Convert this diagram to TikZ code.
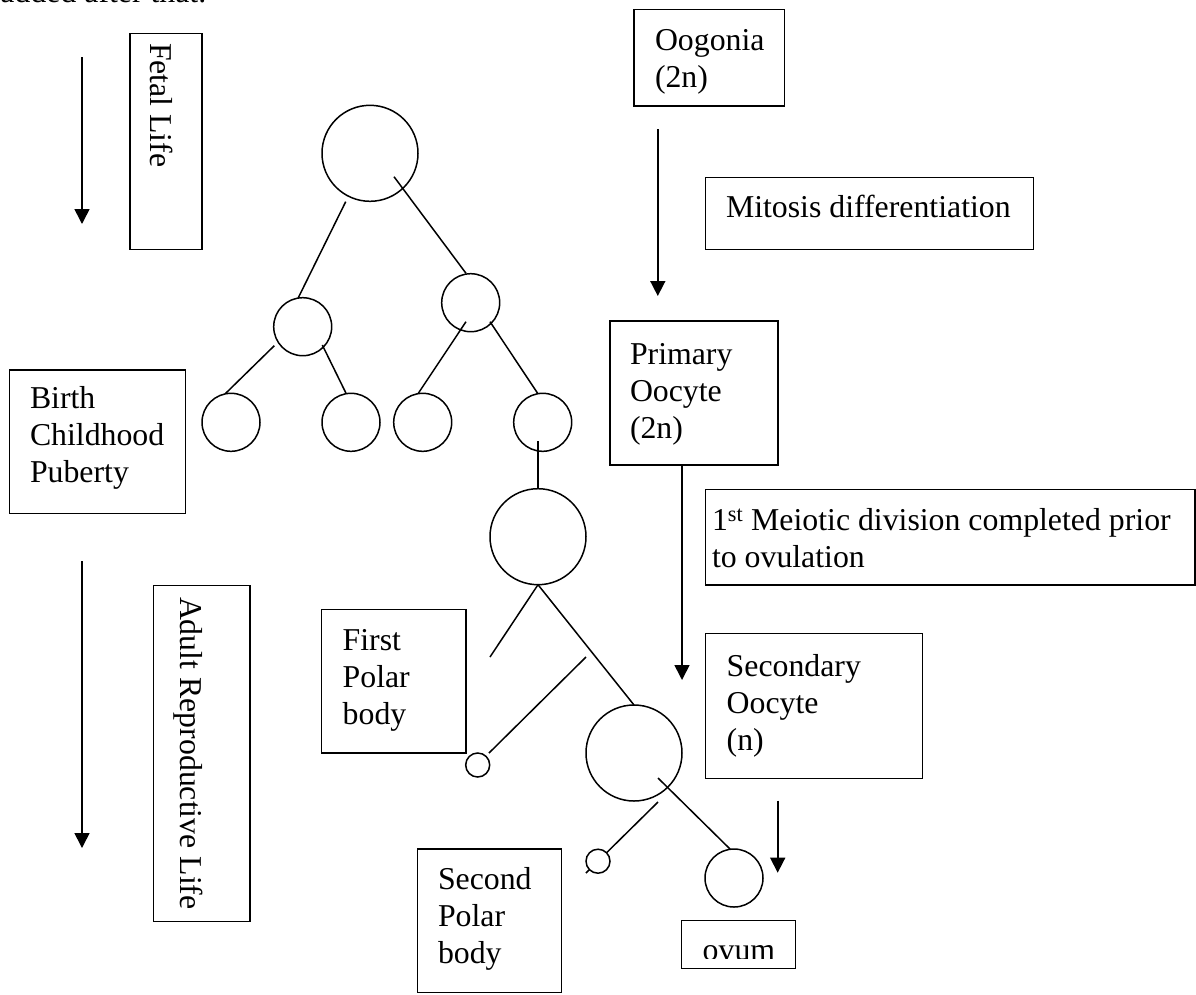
\documentclass[tikz,border=0pt]{standalone}
\usepackage{fontspec}
\setmainfont{Liberation Serif}
\usetikzlibrary{arrows.meta,calc}

\begin{document}
\begin{tikzpicture}[x=1pt,y=-1pt,
  every node/.style={inner sep=0pt, outer sep=0pt},
  frame/.style={draw, line width=1.5pt, rectangle, anchor=north west},
  cell/.style={draw, line width=1.5pt, circle, minimum size=#1},
  link/.style={line width=1.5pt},
  flow/.style={line width=1.6pt, -{Triangle[width=15pt,length=15pt]}},
  txt/.style={anchor=base west, font=\fontsize{31.8}{37}\selectfont},
]
\useasboundingbox (0,0) rectangle (1196,994);

% running text above the figure
\node[txt] (note) at (0.5,2.5) {added after that.};

% ---------- time line on the left ----------
\node[frame, minimum width=72pt, minimum height=216pt] (fetbox) at (130,33.3) {};
\node[txt, rotate=-90] (fettxt) at (150,43) {Fetal Life};
\coordinate (fetA) at (82,57);
\coordinate (fetB) at (82,224);
\draw[flow] (fetA) -- (fetB);

\node[frame, minimum width=176.4pt, minimum height=143.6pt] (birthbox) at (9.3,370) {};
\node[txt] (birthtxt) at (30,408.5) {\parbox[t]{200pt}{Birth\\Childhood\\Puberty}};

\node[frame, minimum width=96.7pt, minimum height=336pt] (adultbox) at (153.3,585.6) {};
\node[txt, rotate=-90] (adulttxt) at (180,597) {Adult Reproductive Life};
\coordinate (adA) at (82,561);
\coordinate (adB) at (82,848);
\draw[flow] (adA) -- (adB);

% ---------- stages on the right ----------
\node[frame, minimum width=150.7pt, minimum height=96.7pt] (oogbox) at (634,9.3) {};
\node[txt] (oogtxt) at (655,50) {\parbox[t]{200pt}{Oogonia\\(2n)}};
\coordinate (oogA) at (657.8,129);
\coordinate (oogB) at (657.8,296);
\draw[flow] (oogA) -- (oogB);

\node[frame, minimum width=328pt, minimum height=71.6pt] (mitbox) at (705.7,177.7) {};
\node[txt] (mittxt) at (726,217.5) {Mitosis differentiation};

\node[frame, minimum width=168pt, minimum height=144pt] (primbox) at (610,321) {};
\node[txt] (primtxt) at (630,364) {\parbox[t]{200pt}{Primary\\Oocyte\\(2n)}};
\coordinate (primB) at (682,680);
\draw[flow] (primbox.south -| primB) -- (primB);

\node[frame, minimum width=489.5pt, minimum height=95.7pt] (meibox) at (705.7,489.3) {};
\node[txt] (meitxt) at (712,530.5) {\parbox[t]{500pt}{1\textsuperscript{st} Meiotic division completed prior\\to ovulation}};

\node[frame, minimum width=216.6pt, minimum height=145pt] (secbox) at (705.7,633.3) {};
\node[txt] (sectxt) at (726.7,676) {\parbox[t]{200pt}{Secondary\\Oocyte\\(n)}};
\coordinate (secA) at (777.7,800.7);
\coordinate (secB) at (777.7,872.7);
\draw[flow] (secA) -- (secB);

\node[frame, minimum width=114pt, minimum height=47.6pt] (ovbox) at (681.7,920.7) {};
\begin{scope}
  \clip (681.7,920.7) rectangle (795.7,958.5);
  \node[txt] (ovtxt) at (702.7,960) {ovum};
\end{scope}

\node[frame, minimum width=144.3pt, minimum height=143.7pt] (firstbox) at (321.7,609.3) {};
\node[txt] (firsttxt) at (342.7,650) {\parbox[t]{200pt}{First\\Polar\\body}};

\node[frame, minimum width=144.4pt, minimum height=143.7pt] (secondbox) at (417.3,849) {};
\node[txt] (secondtxt) at (438,889) {\parbox[t]{200pt}{Second\\Polar\\body}};

% ---------- cells ----------
\node[cell=96pt] (c0) at (370,153.3) {};
\node[cell=58pt] (c1) at (302.7,326.7) {};
\node[cell=58pt] (c2) at (470.7,302.7) {};
\node[cell=58pt] (c3a) at (231,422.3) {};
\node[cell=58pt] (c3b) at (351,422.3) {};
\node[cell=58pt] (c3c) at (422.7,422.3) {};
\node[cell=58pt] (c3d) at (542.7,422.3) {};
\node[cell=96pt] (c4) at (538,536.7) {};
\node[cell=96pt] (c5) at (634,753) {};
\node[cell=24pt] (p1) at (477.7,765) {};
\node[cell=58pt] (ov) at (734,878) {};
\coordinate (p2c) at (598,861.2);

% ---------- divisions ----------
\draw[link] ($(c0)+(-24.3,48.4)$) -- ($(c1)+(-4.4,-29)$);
\draw[link] ($(c0)+(24,23.4)$) -- ($(c2)+(-4.7,-29.4)$);
\draw[link] ($(c1)+(-28.4,19)$) -- ($(c3a)+(-5.3,-29)$);
\draw[link] ($(c1)+(19.6,18.3)$) -- ($(c3b)+(-5,-29.1)$);
\draw[link] ($(c2)+(-4.7,19)$) -- ($(c3c)+(-4.4,-29)$);
\draw[link] ($(c2)+(19.3,19)$) -- ($(c3d)+(-5,-28.9)$);
\draw[link] ($(c3d)+(-4.7,18.7)$) -- (c4.north);
\coordinate (cutA) at (490,657);
\draw[link] (c4.south) -- (cutA);
\draw[link] (c4.south) -- (c5.north);
\coordinate (cutB) at (586,657);
\draw[link] (cutB) -- ($(p1)+(11.3,-12)$);
\draw[link] ($(c5)+(24,25)$) -- ($(ov)+(-4,-29)$);
\draw[link] ($(c5)+(24,49)$) -- ($(p2c)+(-12,11.8)$);
\node[cell=24pt, fill=white] (p2) at (p2c) {};
\end{tikzpicture}
\end{document}
